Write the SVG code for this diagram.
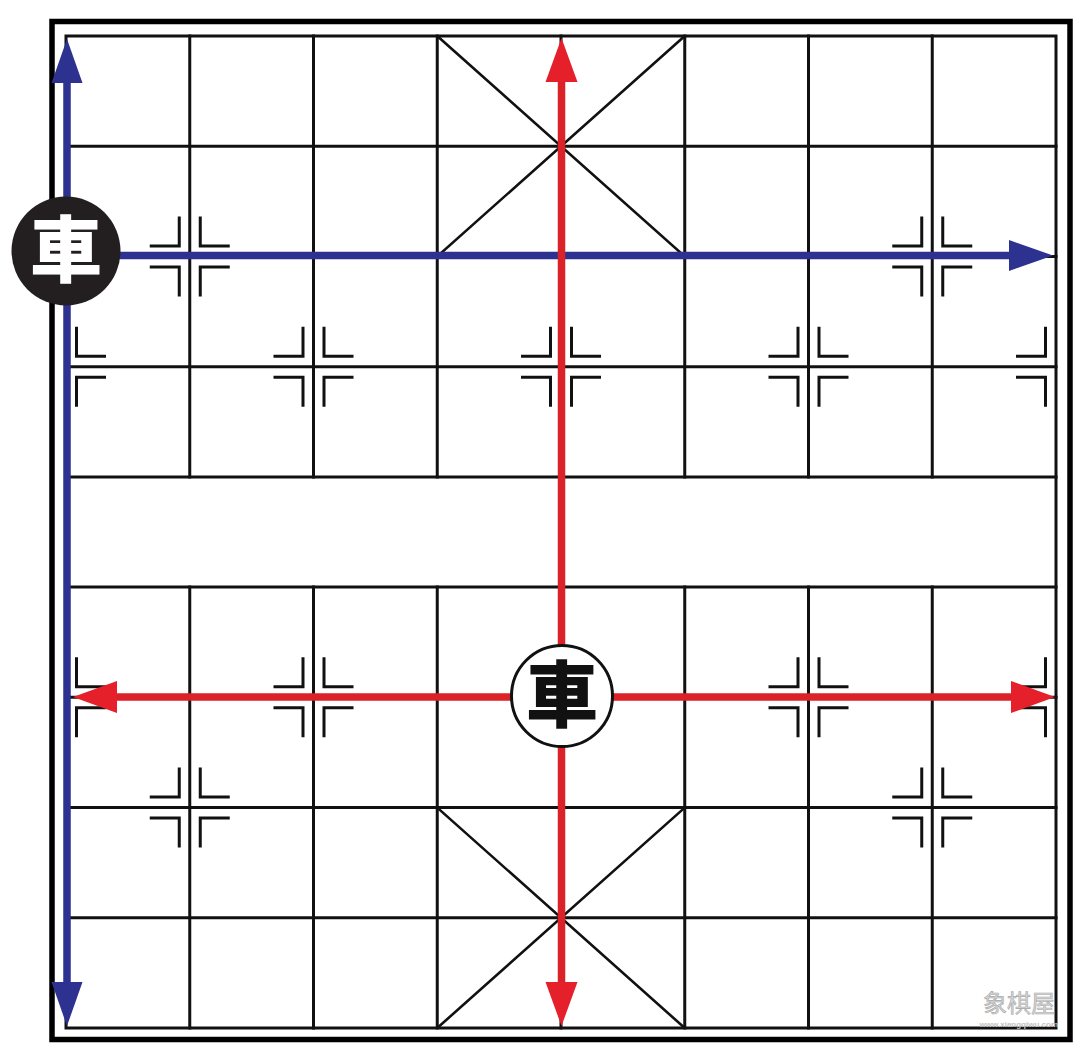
<svg xmlns="http://www.w3.org/2000/svg" width="1080" height="1048" viewBox="0 0 1080 1048">
<style>
.grid{stroke:#111;stroke-width:3;fill:none;stroke-linecap:square}
.diag{stroke:#111;stroke-width:2.6;fill:none}
.mk{stroke:#111;stroke-width:3;fill:none;stroke-linecap:butt}
.blue{stroke:#2d3190;stroke-width:7.5;fill:none}
.red{stroke:#dc2229;stroke-width:7.5;fill:none}
.ch{font-family:"Noto Sans CJK SC","Noto Sans CJK TC",serif;font-weight:900;font-size:72px;text-anchor:middle}
</style>
<defs>
<marker id="ahBlue" markerUnits="userSpaceOnUse" markerWidth="46" markerHeight="34" viewBox="0 -17 46 34" refX="1" refY="0" orient="auto-start-reverse" overflow="visible">
<path d="M0,-15.5 L44,0 L0,15.5 z" fill="#2d3190"/>
</marker>
<marker id="ahRed" markerUnits="userSpaceOnUse" markerWidth="46" markerHeight="34" viewBox="0 -17 46 34" refX="1" refY="0" orient="auto-start-reverse" overflow="visible">
<path d="M0,-16 L44,0 L0,16 z" fill="#e5202a"/>
</marker>
<g id="mkL" class="mk">
<polyline points="-40,-10.5 -10.5,-10.5 -10.5,-40"/>
<polyline points="-40,10.5 -10.5,10.5 -10.5,40"/>
</g>
<g id="mkR" class="mk">
<polyline points="40,-10.5 10.5,-10.5 10.5,-40"/>
<polyline points="40,10.5 10.5,10.5 10.5,40"/>
</g>
<g id="mkF"><use href="#mkL"/><use href="#mkR"/></g>
</defs>
<rect width="1080" height="1048" fill="#ffffff"/>
<g id="board">
<rect x="52" y="21.5" width="1018" height="1018" fill="none" stroke="#000" stroke-width="5.5"/>
<rect class="grid" x="66" y="36" width="990" height="992"/>
<g class="grid">
<line x1="66" y1="146.2" x2="1056" y2="146.2"/>
<line x1="66" y1="256.4" x2="1056" y2="256.4"/>
<line x1="66" y1="366.7" x2="1056" y2="366.7"/>
<line x1="66" y1="476.9" x2="1056" y2="476.9"/>
<line x1="66" y1="587.1" x2="1056" y2="587.1"/>
<line x1="66" y1="697.3" x2="1056" y2="697.3"/>
<line x1="66" y1="807.6" x2="1056" y2="807.6"/>
<line x1="66" y1="917.8" x2="1056" y2="917.8"/>
<path d="M189.75,36V476.9M313.5,36V476.9M437.25,36V476.9M561,36V476.9M684.75,36V476.9M808.5,36V476.9M932.25,36V476.9"/>
<path d="M189.75,587.1V1028M313.5,587.1V1028M437.25,587.1V1028M561,587.1V1028M684.75,587.1V1028M808.5,587.1V1028M932.25,587.1V1028"/>
</g>
<g class="diag">
<path d="M437.25,36L684.75,256.4M684.75,36L437.25,256.4"/>
<path d="M437.25,807.6L684.75,1028M684.75,807.6L437.25,1028"/>
</g>
<g id="points">
<use href="#mkF" x="189.75" y="256.4"/>
<use href="#mkF" x="932.25" y="256.4"/>
<use href="#mkF" x="189.75" y="807.6"/>
<use href="#mkF" x="932.25" y="807.6"/>
<use href="#mkR" x="66" y="366.7"/>
<use href="#mkF" x="313.5" y="366.7"/>
<use href="#mkF" x="561" y="366.7"/>
<use href="#mkF" x="808.5" y="366.7"/>
<use href="#mkL" x="1056" y="366.7"/>
<use href="#mkR" x="66" y="697.3"/>
<use href="#mkF" x="313.5" y="697.3"/>
<use href="#mkF" x="808.5" y="697.3"/>
<use href="#mkL" x="1056" y="697.3"/>
</g>
</g>
<g id="connectors">
<line class="blue" x1="67" y1="82" x2="67" y2="983" marker-start="url(#ahBlue)" marker-end="url(#ahBlue)"/>
<line class="blue" x1="110" y1="255.5" x2="1010" y2="255.5" marker-end="url(#ahBlue)"/>
<line class="red" x1="561.5" y1="81" x2="561.5" y2="983" marker-start="url(#ahRed)" marker-end="url(#ahRed)"/>
<line class="red" x1="116" y1="697" x2="1012" y2="697" marker-start="url(#ahRed)" marker-end="url(#ahRed)"/>
</g>
<g id="black-rook">
<circle cx="66" cy="251" r="54.5" fill="#231f20"/>
<text class="ch" x="66" y="276" fill="#ffffff">車</text>
</g>
<g id="red-rook">
<circle cx="562" cy="696" r="50.5" fill="#ffffff" stroke="#111" stroke-width="3"/>
<text class="ch" x="562" y="721" fill="#111">車</text>
</g>
<g id="watermark">
<text x="1055" y="1012" text-anchor="end" font-family="Noto Sans CJK SC,sans-serif" font-size="24" fill="#d6d6d6" stroke="#a8a8a8" stroke-width="0.6">象棋屋</text>
<text x="1058" y="1027" text-anchor="end" font-family="Liberation Sans,sans-serif" font-weight="bold" font-size="8" fill="#c4c4c4">www.xiangqiwu.com</text>
</g>
</svg>
